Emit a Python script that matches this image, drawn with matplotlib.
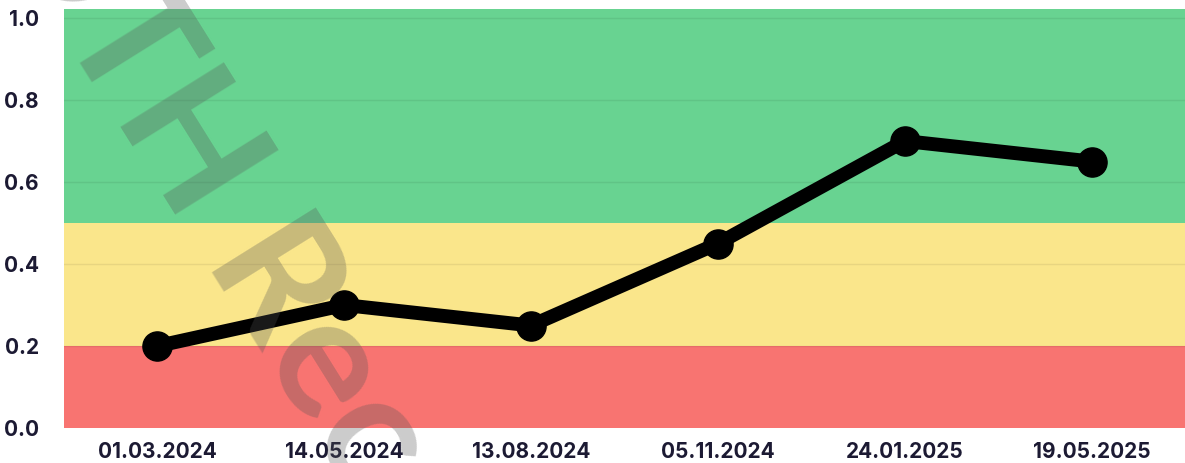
import matplotlib
matplotlib.use("Agg")
import matplotlib.pyplot as plt

dates = ["01.03.2024", "14.05.2024", "13.08.2024", "05.11.2024", "24.01.2025", "19.05.2025"]
scores = [0.20, 0.30, 0.25, 0.45, 0.70, 0.65]
y_ticks = [0.0, 0.2, 0.4, 0.6, 0.8, 1.0]
bands = [(0.0, 0.2, "#f87471"), (0.2, 0.5, "#fae68b"), (0.5, 1.1, "#68d391")]

plt.rcParams["font.family"] = ["Inter", "DejaVu Sans"]

fig = plt.figure(figsize=(11.85, 4.63), dpi=100)
ax = fig.add_axes([64 / 1185, 35 / 463, 1 - 64 / 1185, 419 / 463])

for lo, hi, c in bands:
    ax.axhspan(lo, hi, color=c, zorder=0, lw=0)

for y in y_ticks[1:]:
    ax.axhline(y, color="black", alpha=0.07, lw=1, zorder=1)

x = list(range(len(dates)))
ax.plot(x, scores, color="black", lw=10, marker="o", markersize=21,
        solid_joinstyle="round", zorder=3)

ax.set_xlim(-0.5, len(dates) - 0.5)
ax.set_ylim(0, 1.022)
ax.set_xticks(x)
ax.set_xticklabels(dates)
ax.set_yticks(y_ticks)
ax.set_yticklabels([f"{v:.1f}" for v in y_ticks])
ax.tick_params(length=0, labelsize=15, labelcolor="#1c1a33")
for lab in ax.get_xticklabels() + ax.get_yticklabels():
    lab.set_fontweight("bold")
ax.tick_params(axis="x", pad=10)
ax.tick_params(axis="y", pad=18)
for s in ax.spines.values():
    s.set_visible(False)

# watermark
fig.text(210 / 1185, 1 - 180 / 463, "OTH Rec", rotation=-58, rotation_mode="anchor",
         ha="center", va="center", fontsize=122, fontweight="bold",
         color="#555555", alpha=0.3, zorder=10, family=["Lato", "DejaVu Sans"])

fig.savefig("out.png", dpi=100)
